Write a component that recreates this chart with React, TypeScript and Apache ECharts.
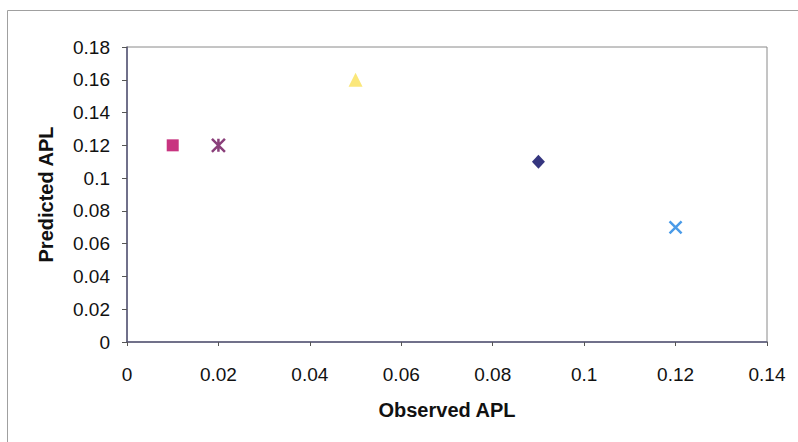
import React, { useEffect, useRef } from "react";
import * as echarts from "echarts";

const xTicks = [0, 0.02, 0.04, 0.06, 0.08, 0.1, 0.12, 0.14];
const yTicks = [0, 0.02, 0.04, 0.06, 0.08, 0.1, 0.12, 0.14, 0.16, 0.18];
const squarePt = [0.01, 0.12];
const starPt = [0.02, 0.12];
const trianglePt = [0.05, 0.16];
const diamondPt = [0.09, 0.11];
const crossPt = [0.12, 0.07];

const fmt = (v: number) => String(Number(v.toFixed(2)));

export default function App() {
  const ref = useRef<HTMLDivElement>(null);
  useEffect(() => {
    const chart = echarts.init(ref.current!, null, { renderer: "svg" });
    const font = "Arial, 'Liberation Sans', sans-serif";
    chart.setOption({
      animation: false,
      backgroundColor: "#ffffff",
      graphic: [
        {
          type: "rect",
          shape: { x: 7.5, y: 10.5, width: 820, height: 460 },
          style: { fill: "none", stroke: "#a0a0a0", lineWidth: 1 },
          silent: true,
        },
      ],
      grid: {
        left: 127,
        right: 31,
        top: 47,
        bottom: 100,
        show: true,
        borderColor: "#8a8a8a",
        borderWidth: 1,
        backgroundColor: "transparent",
      },
      xAxis: {
        type: "value",
        min: xTicks[0],
        max: xTicks[xTicks.length - 1],
        interval: 0.02,
        name: "Observed APL",
        nameLocation: "middle",
        nameGap: 58,
        nameTextStyle: { fontFamily: font, fontWeight: "bold", fontSize: 20, color: "#111" },
        axisLine: { lineStyle: { color: "#555577", width: 1.5 } },
        axisTick: { show: true, length: 4, inside: false, lineStyle: { color: "#555" } },
        splitLine: { show: false },
        axisLabel: {
          fontFamily: font,
          fontSize: 19,
          color: "#111",
          margin: 23,
          formatter: fmt,
        },
      },
      yAxis: {
        type: "value",
        min: yTicks[0],
        max: yTicks[yTicks.length - 1],
        interval: 0.02,
        name: "Predicted APL",
        nameLocation: "middle",
        nameGap: 71,
        nameRotate: 90,
        nameTextStyle: { fontFamily: font, fontWeight: "bold", fontSize: 20, color: "#111" },
        axisLine: { show: true, lineStyle: { color: "#555577", width: 1.5 } },
        axisTick: { show: true, length: 5, inside: false, lineStyle: { color: "#555" } },
        splitLine: { show: false },
        axisLabel: {
          fontFamily: font,
          fontSize: 19,
          color: "#111",
          margin: 17,
          formatter: fmt,
        },
      },
      series: [
        {
          type: "scatter",
          data: [squarePt],
          symbol: "rect",
          symbolSize: 12,
          itemStyle: { color: "#c83480", opacity: 1 },
        },
        {
          type: "scatter",
          data: [starPt],
          symbol: "path://M0,0L10,10M10,0L0,10M5,0L5,10",
          symbolSize: 13,
          itemStyle: { color: "none", borderColor: "#8a3f7a", borderWidth: 2.5, opacity: 1 },
        },
        {
          type: "scatter",
          data: [trianglePt],
          symbol: "triangle",
          symbolSize: 14,
          itemStyle: { color: "#fbe77a", opacity: 1 },
        },
        {
          type: "scatter",
          data: [diamondPt],
          symbol: "diamond",
          symbolSize: [13, 14],
          itemStyle: { color: "#35367f", opacity: 1 },
        },
        {
          type: "scatter",
          data: [crossPt],
          symbol: "path://M0,0L10,10M10,0L0,10",
          symbolSize: 12,
          itemStyle: { color: "none", borderColor: "#4a9be8", borderWidth: 2.5, opacity: 1 },
        },
      ],
    });
    return () => chart.dispose();
  }, []);
  return (
    <div
      ref={ref}
      style={{ position: "fixed", left: 0, top: 0, width: 798, height: 442 }}
    />
  );
}
